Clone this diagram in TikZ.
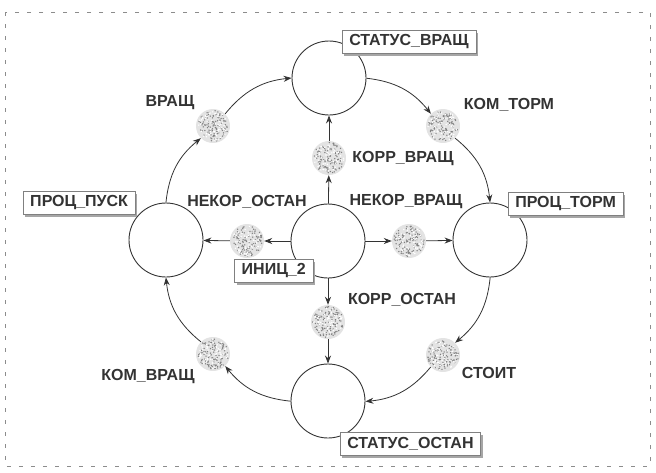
\documentclass[tikz,border=0pt]{standalone}
\usepackage{fontspec}
\setmainfont{Liberation Sans}
\usetikzlibrary{arrows.meta,shadows}
\newcommand\stipplenode[3]{%
  \node[trans] (#1) at (#2,#3) {};
  \foreach \i in {1,...,110}{%
    \pgfmathsetmacro\rr{15.5*sqrt(rnd)}%
    \pgfmathsetmacro\aa{360*rnd}%
    \fill[black!50] (#1.center) ++(\aa:\rr) circle (0.75);
  }%
  \foreach \i in {1,...,60}{%
    \pgfmathsetmacro\rr{15*sqrt(rnd)}%
    \pgfmathsetmacro\aa{360*rnd}%
    \fill[white] (#1.center) ++(\aa:\rr) circle (0.8);
  }%
}
\begin{document}
\begin{tikzpicture}[x=1pt,y=1pt,
  place/.style={circle,draw=black!80,line width=0.9pt,minimum size=74pt,inner sep=0pt},
  trans/.style={circle,minimum size=34pt,inner sep=0pt,fill=gray!22},
  lbl/.style={font=\bfseries\fontsize{16}{18}\selectfont,text=black!80,inner sep=0pt},
  box/.style={lbl,draw=black!50,line width=0.5pt,fill=white,inner xsep=7pt,minimum height=23pt,anchor=north west,drop shadow={shadow xshift=2pt,shadow yshift=-3pt,fill=black!35,opacity=1}},
  arc/.style={-{Stealth[length=8pt,width=6pt]},line width=0.8pt,draw=black!80}]
\pgfmathsetseed{7}
\useasboundingbox (0,0) rectangle (656,-472);
\draw[black!45,dash pattern=on 4pt off 8pt,line width=0.8pt] (5,-12) rectangle (650,-466);
% places
\node[place] (T) at (329,-78) {};
\node[place] (L) at (166,-240) {};
\node[place] (C) at (328,-241) {};
\node[place] (R) at (490,-240) {};
\node[place] (B) at (328,-401) {};
% transitions
\stipplenode{tV}{213}{-126}
\stipplenode{tKT}{443}{-126}
\stipplenode{tS}{443}{-355}
\stipplenode{tKV}{213}{-354}
\stipplenode{tKVr}{329}{-158}
\stipplenode{tNO}{247}{-241}
\stipplenode{tNV}{409}{-241}
\stipplenode{tKO}{328}{-322}
% outer arcs
\draw[arc] (L) to[bend left=22.5] (tV);
\draw[arc] (tV) to[bend left=22.5] (T);
\draw[arc] (T) to[bend left=22.5] (tKT);
\draw[arc] (tKT) to[bend left=22.5] (R);
\draw[arc] (R) to[bend left=22.5] (tS);
\draw[arc] (tS) to[bend left=22.5] (B);
\draw[arc] (B) to[bend left=22.5] (tKV);
\draw[arc] (tKV) to[bend left=22.5] (L);
% inner arcs
\draw[arc] (C) -- (tKVr);
\draw[arc] (tKVr) -- (T);
\draw[arc] (C) -- (tNO);
\draw[arc] (tNO) -- (L);
\draw[arc] (C) -- (tNV);
\draw[arc] (tNV) -- (R);
\draw[arc] (C) -- (tKO);
\draw[arc] (tKO) -- (B);
% free labels
\node[lbl] (lV) at (170,-103) {ВРАЩ};
\node[lbl] (lKT) at (509,-105) {КОМ\_ТОРМ};
\node[lbl] (lKVr) at (403,-159) {КОРР\_ВРАЩ};
\node[lbl] (lNO) at (247,-202) {НЕКОР\_ОСТАН};
\node[lbl] (lNV) at (406,-202) {НЕКОР\_ВРАЩ};
\node[lbl] (lKO) at (402,-300) {КОРР\_ОСТАН};
\node[lbl] (lS) at (489,-373) {СТОИТ};
\node[lbl] (lKV) at (148,-377) {КОМ\_ВРАЩ};
% boxed labels
\node[box] (bSV) at (342,-30) {СТАТУС\_ВРАЩ};
\node[box] (bPP) at (23,-191) {ПРОЦ\_ПУСК};
\node[box] (bPT) at (508,-192) {ПРОЦ\_ТОРМ};
\node[box] (bSO) at (340,-432) {СТАТУС\_ОСТАН};
\node[box,anchor=north east] (bI) at (313,-259) {ИНИЦ\_2};
\end{tikzpicture}
\end{document}
